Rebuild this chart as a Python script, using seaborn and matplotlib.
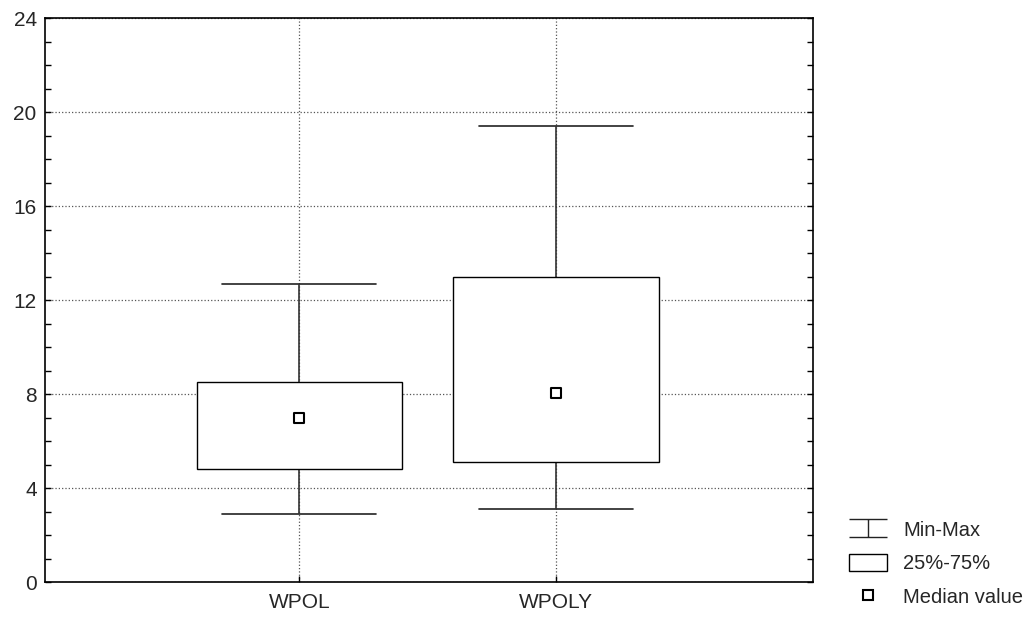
import numpy as np
import pandas as pd
import matplotlib
matplotlib.use("Agg")
import matplotlib.pyplot as plt
from matplotlib.path import Path
from matplotlib.lines import Line2D
from matplotlib.patches import Patch
import seaborn as sns

# summary values
groups = ["WPOL", "WPOLY"]
mins = [2.9, 3.1]
q1s = [4.8, 5.1]
medians = [7.0, 8.05]
q3s = [8.5, 13.0]
maxs = [12.7, 19.4]

# five points per group -> quartiles equal the given values (linear interpolation)
rows = []
for g, a, b, c, d, e in zip(groups, mins, q1s, medians, q3s, maxs):
    for v in (a, b, c, d, e):
        rows.append({"group": g, "value": v})
df = pd.DataFrame(rows)
med_df = pd.DataFrame({"group": groups, "value": medians})

sns.set_style("white")
plt.rcParams["font.family"] = ["Liberation Sans", "DejaVu Sans"]

fig = plt.figure(figsize=(10.36, 6.21), dpi=100)
ax = fig.add_axes([45/1036, 1-582/621, (813-45)/1036, (582-18)/621])

sns.boxplot(data=df, x="group", y="value", order=groups, whis=(0, 100), width=0.8,
            color="white", linecolor="black", linewidth=1.0, fill=True,
            showfliers=False, showcaps=True,
            medianprops={"visible": False},
            boxprops={"facecolor": "white", "edgecolor": "black", "zorder": 3},
            whiskerprops={"color": "#333333", "linewidth": 1.2, "zorder": 2.5},
            capprops={"color": "#222222", "linewidth": 1.2},
            capwidths=0.6, ax=ax)
sns.scatterplot(data=med_df, x="group", y="value", marker="s", s=55,
                facecolor="white", edgecolor="black", linewidth=1.5, zorder=5, ax=ax)

ax.set_xlim(-0.99, 2.0)
ax.set_ylim(0, 24)
ax.set_yticks(np.arange(0, 25, 4))
ax.set_yticks(np.arange(0, 25, 1), minor=True)
ax.set_xlabel("")
ax.set_ylabel("")
ax.grid(True, which="major", linestyle=":", color="#555555", linewidth=0.9, zorder=0)
ax.set_axisbelow(True)
ax.tick_params(axis="both", which="both", direction="in", length=4, width=1,
               color="black", labelsize=15)
ax.tick_params(axis="y", which="both", left=True, right=True)
ax.tick_params(axis="x", which="both", bottom=True, top=False, pad=8)
ax.tick_params(axis="y", pad=6)
for sp in ax.spines.values():
    sp.set_visible(True)
    sp.set_color("black")
    sp.set_linewidth(1.2)

# custom legend outside the axes
ibeam = Path([(-1, 0.5), (1, 0.5), (-1, -0.5), (1, -0.5), (0, 0.5), (0, -0.5)],
             [Path.MOVETO, Path.LINETO, Path.MOVETO, Path.LINETO, Path.MOVETO, Path.LINETO])
handles = [
    Line2D([], [], linestyle="none", marker=ibeam, markersize=27, color="#222222",
           markeredgewidth=1.0),
    Patch(facecolor="white", edgecolor="black", linewidth=1.0),
    Line2D([], [], linestyle="none", marker="s", markersize=7, markerfacecolor="white",
           markeredgecolor="black", markeredgewidth=1.5),
]
fig.legend(handles, ["Min-Max", "25%-75%", "Median value"], loc="lower left",
           bbox_to_anchor=(849/1036, 1-607/621), frameon=False, fontsize=14.5,
           handlelength=1.9, handleheight=0.95, handletextpad=0.8,
           labelspacing=0.7, borderpad=0, borderaxespad=0)

fig.savefig("out.png", dpi=100)
